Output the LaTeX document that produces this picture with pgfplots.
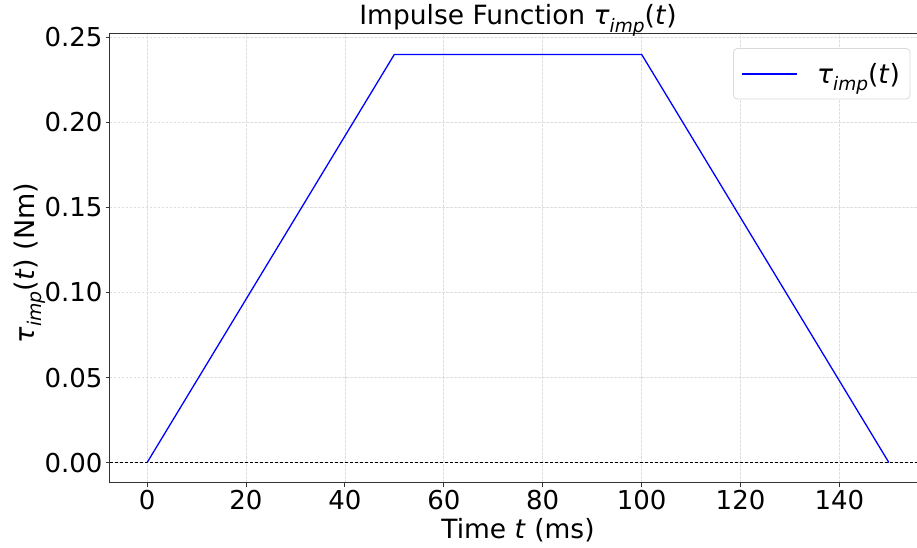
\documentclass[border=0pt]{standalone}
\usepackage{fontspec}
\setmainfont{DejaVu Sans}
\usepackage{graphicx}
\usepackage{pgfplots}
\pgfplotsset{compat=1.18}
\newcommand\timp{\textit{τ}\raisebox{-0.28em}{\scalebox{0.7}{\textit{imp}}}(\textit{t})}
\begin{document}
\begin{tikzpicture}
\begin{axis}[
  name=ax,
  scale only axis,
  width=816pt, height=449pt,
  xmin=-7.5, xmax=157.5,
  ymin=-0.012, ymax=0.252,
  xtick={0,20,...,140},
  ytick={0,0.05,0.10,0.15,0.20,0.25},
  /pgf/number format/assume math mode=true,
  yticklabel style={/pgf/number format/fixed, /pgf/number format/fixed zerofill, /pgf/number format/precision=2},
  xticklabel style={/pgf/number format/fixed},
  scaled y ticks=false,
  tick label style={font=\fontsize{26}{30}\selectfont},
  tick align=outside,
  tick pos=left,
  major tick length=4pt,
  every tick/.style={black!80, line width=1pt},
  axis line style={black!80, line width=1pt},
  grid=major,
  grid style={dash pattern=on 2.5pt off 1.5pt, black!13, line width=0.8pt},
  title={Impulse Function \timp},
  title style={font=\fontsize{26.5}{30}\selectfont, at={(0.5,1)}, anchor=base, yshift=3pt},
  xlabel={Time \textit{t} (ms)},
  xlabel style={font=\fontsize{26.5}{30}\selectfont, at={(axis description cs:0.5,0)}, anchor=base, yshift=-55pt},
  ylabel={\timp\ (Nm)},
  ylabel style={font=\fontsize{27}{30}\selectfont, at={(axis description cs:-0.0931,0.49)}, anchor=base, rotate=0},
  legend style={at={(0.7635,0.9688)}, anchor=north west, draw=black!15, rounded corners=4pt, fill=white,
    font=\fontsize{26.5}{28}\selectfont, inner xsep=8pt, inner ysep=12.5pt, line width=0.8pt},
  legend cell align=left,
  every axis plot/.append style={line join=miter},
]
\addplot[black, dash pattern=on 3pt off 2pt, line width=0.8pt, forget plot] coordinates {(-7.5,0) (157.5,0)};
\addplot[blue, line width=1.3pt,
  legend image code/.code={\draw[color=blue, line width=1.6pt] (0pt,0pt) -- (55pt,0pt);}]
  coordinates {(0,0) (50,0.24) (100,0.24) (150,0)};
\addlegendentry{\hspace{17pt}\timp}
\end{axis}
\pgfresetboundingbox
\path[use as bounding box] (-110pt,-65pt) rectangle (807pt,483pt);
\end{tikzpicture}
\end{document}
